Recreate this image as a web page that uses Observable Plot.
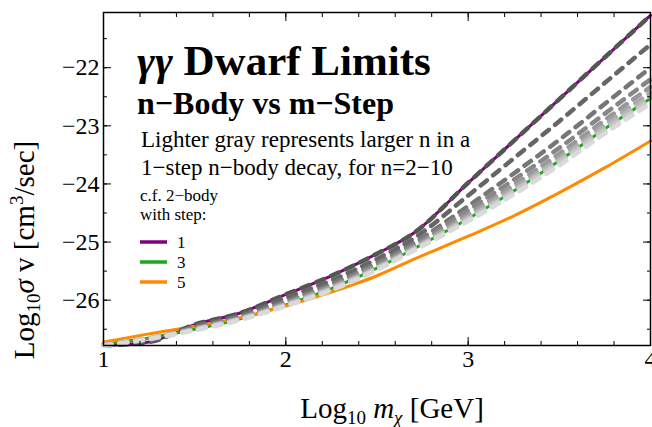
<!DOCTYPE html>
<html>
<head>
<meta charset="UTF-8">
<script src="https://cdn.jsdelivr.net/npm/d3@7"></script>
<script src="https://cdn.jsdelivr.net/npm/@observablehq/plot@0.6"></script>
<style>
  body { margin: 0; background: #fff; }
  text { font-family: "Liberation Serif", serif; }
</style>
</head>
<body>
<div id="chart"></div>
<script>
// log10 mass grid
const xs = [1, 1.25, 1.5, 1.75, 2, 2.25, 2.5, 2.7, 3, 3.25, 3.5, 3.75, 4];

// 2-body limits, with step 1, 3, 5
const step1 = [-26.78, -26.72, -26.42, -26.22, -25.9, -25.58, -25.2, -24.85, -23.98, -23.26, -22.54, -21.82, -21.1];
const step3 = [-26.76, -26.65, -26.5, -26.32, -26.08, -25.8, -25.45, -25.12, -24.6, -24.12, -23.6, -23.05, -22.53];
const step5 = [-26.72, -26.58, -26.45, -26.3, -26.1, -25.86, -25.58, -25.3, -24.9, -24.55, -24.15, -23.72, -23.26];

// 1-step n-body, n = 2..10
const nBody = [
  [-26.78, -26.72, -26.42, -26.22, -25.9, -25.58, -25.2, -24.85, -23.98, -23.26, -22.54, -21.82, -21.1],
  [-26.77, -26.69, -26.45, -26.26, -25.96, -25.66, -25.29, -24.94, -24.2, -23.56, -22.92, -22.26, -21.6],
  [-26.77, -26.68, -26.47, -26.28, -26.02, -25.72, -25.36, -25.02, -24.38, -23.82, -23.24, -22.62, -22.0],
  [-26.77, -26.67, -26.48, -26.3, -26.04, -25.75, -25.39, -25.06, -24.45, -23.93, -23.38, -22.79, -22.2],
  [-26.77, -26.66, -26.49, -26.31, -26.06, -25.77, -25.42, -25.09, -24.52, -24.02, -23.48, -22.9, -22.33],
  [-26.77, -26.66, -26.5, -26.32, -26.07, -25.79, -25.44, -25.11, -24.56, -24.07, -23.55, -22.98, -22.43],
  [-26.77, -26.65, -26.5, -26.32, -26.08, -25.8, -25.45, -25.12, -24.59, -24.11, -23.59, -23.03, -22.5],
  [-26.78, -26.66, -26.51, -26.33, -26.09, -25.81, -25.46, -25.13, -24.61, -24.14, -23.63, -23.08, -22.56],
  [-26.79, -26.67, -26.52, -26.34, -26.1, -25.83, -25.48, -25.15, -24.64, -24.18, -23.68, -23.13, -22.62]
];
const nValues = [2, 3, 4, 5, 6, 7, 8, 9, 10];

const steps = [
  { label: "1", values: step1, color: "#800080" },
  { label: "3", values: step3, color: "#1aaa1a" },
  { label: "5", values: step5, color: "#ff8a00" }
];

const xMajor = [1, 2, 3, 4];
const xMinor = d3.range(1, 4.001, 0.2);
const yMajor = [-26, -25, -24, -23, -22];
const yMinor = d3.range(-26.5, -21, 0.5);

const stepRows = steps.flatMap(s => xs.map((x, i) => ({ x, y: s.values[i], step: s.label })));
const grayScale = d3.scaleLinear().domain([2, 10]).range(["#555555", "#dadada"]);
const nRows = nBody.flatMap((vals, k) => xs.map((x, i) => ({ x, y: vals[i], n: nValues[k] })));

const plot = Plot.plot({
  width: 652,
  height: 427,
  marginLeft: 103,
  marginRight: 2,
  marginTop: 12,
  marginBottom: 82,
  x: { domain: [1, 4] },
  y: { domain: [-26.78, -21.05] },
  style: { fontFamily: "Liberation Serif", fontSize: "24px", color: "#000" },
  marks: [
    Plot.line(stepRows, { x: "x", y: "y", z: "step", stroke: d => steps.find(s => s.label === d.step).color, strokeWidth: 3, curve: "monotone-x" }),
    ...nValues.map(n =>
      Plot.line(nRows.filter(d => d.n === n), { x: "x", y: "y", stroke: grayScale(n), strokeWidth: 4.5, strokeDasharray: "8,8", curve: "monotone-x" })
    ),
    Plot.frame({ strokeWidth: 1.5 }),
    Plot.axisX({ ticks: xMajor, tickSize: -8, tickPadding: 12, tickFormat: d => d, label: null, fontSize: 24, textAnchor: "middle" }),
    Plot.axisX({ ticks: xMinor, tickSize: -4, label: null, text: null }),
    Plot.axisX({ anchor: "top", ticks: xMajor, tickSize: -8, text: null, label: null }),
    Plot.axisX({ anchor: "top", ticks: xMinor, tickSize: -4, text: null, label: null }),
    Plot.axisY({ ticks: yMajor, tickSize: -8, tickPadding: 12, tickFormat: d => "\u2212" + Math.abs(d), label: null, fontSize: 24 }),
    Plot.axisY({ ticks: yMinor, tickSize: -4, text: null, label: null }),
    Plot.axisY({ anchor: "right", ticks: yMajor, tickSize: -8, text: null, label: null }),
    Plot.axisY({ anchor: "right", ticks: yMinor, tickSize: -4, text: null, label: null })
  ]
});

const svg = d3.select(plot);
svg.append("text").attr("x", 392).attr("y", 418).attr("text-anchor", "middle").attr("font-size", 29)
  .html('Log<tspan font-size="19" dy="6">10</tspan><tspan dy="-6"> </tspan><tspan font-style="italic">m</tspan><tspan font-style="italic" font-size="19" dy="6">χ</tspan><tspan dy="-6"> [GeV]</tspan>');
svg.append("text").attr("transform", "translate(34,250) rotate(-90)").attr("text-anchor", "middle").attr("font-size", 29)
  .html('Log<tspan font-size="19" dy="6">10</tspan><tspan dy="-6" font-style="italic">σ</tspan> v [cm<tspan font-size="19" dy="-11">3</tspan><tspan dy="11">/sec]</tspan>');

const note = (x, y, size, html, bold) => svg.append("text").attr("x", x).attr("y", y).attr("text-anchor", "start")
  .attr("font-size", size).attr("font-weight", bold ? "bold" : "normal").html(html);
note(137, 75, 43, '<tspan font-style="italic">γγ</tspan> Dwarf Limits', true);
note(137, 114, 32, "n\u2212Body vs m\u2212Step", true);
note(141, 147, 23, "Lighter gray represents larger n in a");
note(141, 175, 23, "1\u2212step n\u2212body decay, for n=2\u221210");
note(140, 201, 17, "c.f. 2\u2212body");
note(140, 220, 17, "with step:");
steps.forEach((s, i) => {
  const y = 242 + i * 20;
  svg.append("line").attr("x1", 140).attr("x2", 167).attr("y1", y).attr("y2", y).attr("stroke", s.color).attr("stroke-width", 3.5);
  note(177, y + 6, 17, s.label);
});

document.getElementById("chart").append(plot);
</script>
</body>
</html>
